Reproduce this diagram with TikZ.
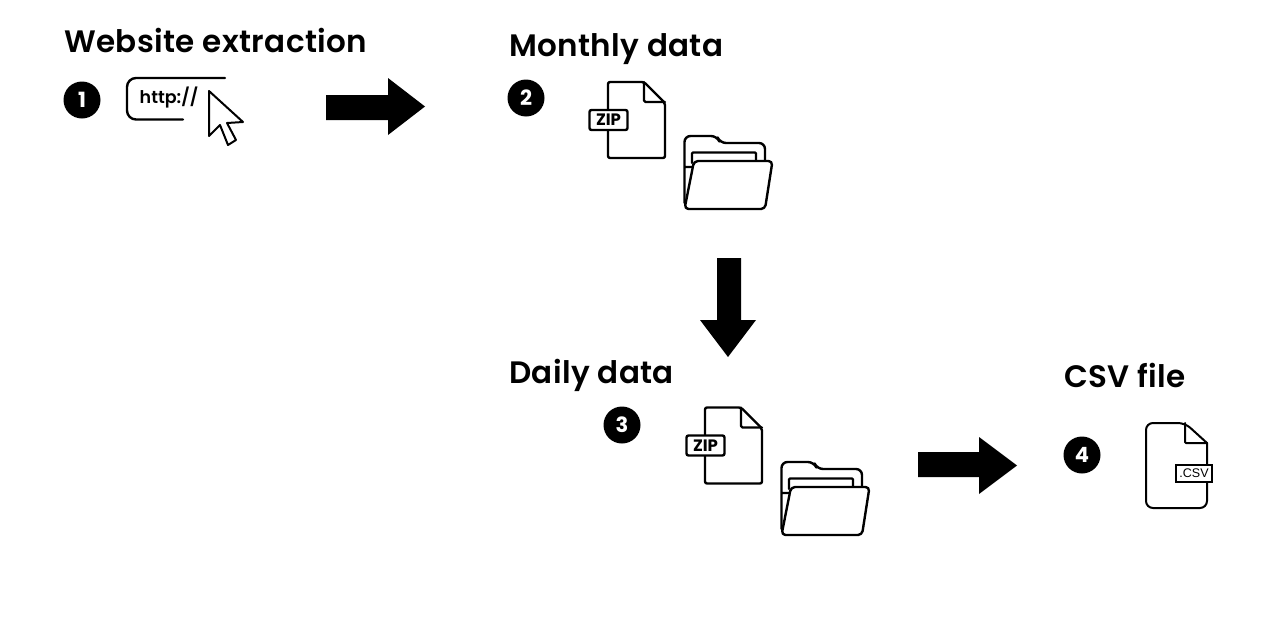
\documentclass[tikz,border=0pt]{standalone}
\usepackage{fontspec}
\setmainfont{Poppins}
\newfontfamily\titlefont{Poppins SemiBold}[LetterSpace=1.2]
\newfontfamily\semi{Poppins SemiBold}
\newfontfamily\lib{Liberation Sans}
\tikzset{x=1pt,y=-1pt,
  title/.style={anchor=base west,inner sep=0pt,font=\titlefont\fontsize{31}{31}\selectfont},
  badge/.style={circle,fill=black,text=white,minimum size=37pt,inner sep=0pt,font=\fontsize{21}{21}\selectfont\bfseries},
  blockarrow/.style={fill=black,draw=none,line join=round},
  icon/.style={draw=black,line width=2.4pt,line join=round,line cap=round},
  thin icon/.style={icon,line width=2pt},
  tag/.style={draw=black,fill=white,line width=2.4pt,rounded corners=2pt,inner sep=0pt,minimum width=38pt,minimum height=20pt,font=\fontsize{16.5}{16.5}\selectfont\bfseries},
  pics/zipdoc/.style={code={
    \draw[icon,fill=white,rounded corners=2pt] (0,0) -- (36,0) -- (57,21) -- (57,76) -- (0,76) -- cycle;
    \draw[icon,rounded corners=1.5pt] (36,0) -- (36,20) -- (57,20);
    \node[tag] at (0.5,38) {ZIP};
  }},
  pics/folder/.style={code={
    \draw[icon,fill=white,rounded corners=6pt] (0.5,66) -- (0.5,-1) -- (33,-1) -- (36,6) -- (81,6) -- (81,30) -- (1,30);
    \draw[icon,rounded corners=1pt] (8,26) -- (8,15.5) -- (72,15.5) -- (72,26);
    \draw[icon,fill=white,rounded corners=4pt] (10,24) -- (88.5,24) -- (81,72) -- (0.5,72) -- cycle;
  }},
}
\begin{document}
\begin{tikzpicture}
\useasboundingbox (0,0) rectangle (1280,640);
\node[title] (t1) at (64,52) {Website extraction};
\node[title] (t2) at (509,56) {Monthly data};
\node[title] (t3) at (509,383) {Daily data};
\node[title] (t4) at (1064,387) {CSV file};
\node[badge] (b1) at (82,100) {1};
\node[badge] (b2) at (526,98) {2};
\node[badge] (b3) at (622,425) {3};
\node[badge] (b4) at (1082,455) {4};
% arrows
\fill[blockarrow] (326,95) -- (388,95) -- (388,78) -- (425,106.5) -- (388,135) -- (388,120) -- (326,120) -- cycle;
\fill[blockarrow] (717,258) -- (741,258) -- (741,320) -- (756,320) -- (728,357) -- (700,320) -- (717,320) -- cycle;
\fill[blockarrow] (918,452) -- (979,452) -- (979,437) -- (1017,465.5) -- (979,494) -- (979,477) -- (918,477) -- cycle;
% url
\draw[line width=2.4pt,line cap=round,rounded corners=9pt] (225,78) -- (127,78) -- (127,119.5) -- (183,119.5);
\node[inner sep=0pt,font=\semi\fontsize{17.5}{17.5}\selectfont] (url) at (169,98) {http://};
\draw[thin icon,fill=white] (209,91) -- (243,122) -- (227,123) -- (236,140) -- (228,145) -- (220,125) -- (209,136) -- cycle;
% icons
\pic at (608,82) {zipdoc};
\pic at (684,137) {folder};
\pic at (705,407.5) {zipdoc};
\pic at (781,463) {folder};
% csv
\draw[thin icon,fill=white,rounded corners=7pt] (1146,423) -- (1185,423) [sharp corners] -- (1207,443) [rounded corners=7pt] -- (1207,508) -- (1146,508) -- cycle;
\draw[thin icon,rounded corners=1pt] (1185,423) -- (1185,443) -- (1207,443);
\node[draw=black,fill=white,line width=2pt,minimum width=36pt,minimum height=17pt,inner sep=0pt,font=\lib\fontsize{12.5}{12.5}\selectfont] (csv) at (1194,473.5) {.CSV};
\end{tikzpicture}
\end{document}
